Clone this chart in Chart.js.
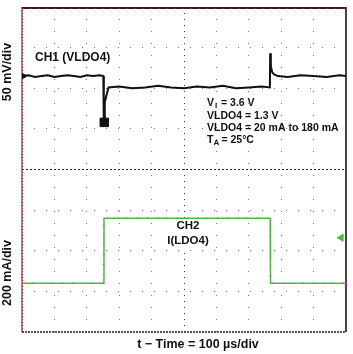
<!DOCTYPE html>
<html>
<head>
<meta charset="utf-8">
<script src="https://cdn.jsdelivr.net/npm/chart.js@4.4.0/dist/chart.umd.min.js"></script>
<style>
html, body { margin: 0; padding: 0; background: #fff; }
#wrap { width: 353px; height: 354px; }
</style>
</head>
<body>
<div id="wrap"><canvas id="scope" width="353" height="354"></canvas></div>
<script>
// time base: 100 us/div, 10 div across
var ch1Time = [0, 20, 40, 60, 80, 100, 120, 140, 160, 180, 200, 220, 240, 251, 252, 253, 255, 255.5, 267, 300, 340, 380, 420, 460, 500, 540, 580, 620, 660, 700, 740, 765, 766, 768, 772, 778, 790, 820, 860, 900, 940, 980, 1000];
// CH1 (VLDO4) deviation, mV (AC coupled)
var ch1mV = [0, 1, -1, 0, 1, -1, 0, 1, 0, -1, 1, 0, 1, 0, 0, -60, -60, -32, -14, -13, -15, -14, -12, -14, -15, -13, -14, -12, -15, -14, -13, -14, 28, 12, 5, 2, 0, -1, 1, 0, -1, 1, 0];

// CH2 I(LDO4), mA
var ch2Time = [0, 252, 253, 766, 767, 1000];
var ch2mA = [20, 20, 180, 180, 20, 20];

// channel markers
var ch1Marker = {t: 254, v: -57};
var ch2RefMarker = {t: 985, v: 132};
var ch1RefMarker = {t: 6, v: 0};

var infoLines = ["VLDO4 = 1.3 V", "VLDO4 = 20 mA to 180 mA"];

function pts(xs, ys) {
	var out = [];
	for (var i = 0; i < xs.length; i++) out.push({x: xs[i], y: ys[i]});
	return out;
}

var frameAndText = {
	id: 'frameAndText',
	beforeDatasetsDraw: function(chart) {
		var ctx = chart.ctx, a = chart.chartArea;
		ctx.save();
		// left border gray + red dots
		ctx.strokeStyle = '#8a8a8a'; ctx.lineWidth = 2;
		ctx.beginPath(); ctx.moveTo(a.left, a.top); ctx.lineTo(a.left, a.bottom); ctx.stroke();
		ctx.strokeStyle = '#e02020'; ctx.lineWidth = 1; ctx.setLineDash([1, 2]);
		ctx.beginPath(); ctx.moveTo(a.left + 0.5, a.top); ctx.lineTo(a.left + 0.5, a.bottom); ctx.stroke();
		ctx.setLineDash([]);
		// top border
		ctx.strokeStyle = '#222'; ctx.lineWidth = 2;
		ctx.beginPath(); ctx.moveTo(a.left, a.top + 1); ctx.lineTo(a.right, a.top + 1); ctx.stroke();
		ctx.strokeStyle = '#e02020'; ctx.lineWidth = 1; ctx.setLineDash([1, 7]);
		ctx.beginPath(); ctx.moveTo(a.left, a.top + 1.5); ctx.lineTo(a.right, a.top + 1.5); ctx.stroke();
		ctx.setLineDash([]);
		// right border
		ctx.strokeStyle = '#444'; ctx.lineWidth = 2;
		ctx.beginPath(); ctx.moveTo(a.right, a.top); ctx.lineTo(a.right, a.bottom); ctx.stroke();
		// bottom border dotted
		ctx.strokeStyle = '#222'; ctx.lineWidth = 1.5; ctx.setLineDash([2, 1]);
		ctx.beginPath(); ctx.moveTo(a.left, a.bottom); ctx.lineTo(a.right, a.bottom); ctx.stroke();
		ctx.setLineDash([]);
		ctx.restore();
	},
	afterDraw: function(chart) {
		var ctx = chart.ctx;
		ctx.save();
		ctx.fillStyle = '#111';
		ctx.textBaseline = 'middle';

		ctx.font = 'bold 12px "Liberation Sans", Arial, sans-serif';
		ctx.textAlign = 'left';
		ctx.fillText('CH1 (VLDO4)', 35, 58);

		// info block
		ctx.font = 'bold 10.5px "Liberation Sans", Arial, sans-serif';
		var x0 = 207;
		ctx.fillText('V', x0, 103);
		var w = ctx.measureText('V').width;
		ctx.font = 'bold 8px "Liberation Sans", Arial, sans-serif';
		ctx.fillText('I', x0 + w + 1, 106);
		ctx.font = 'bold 10.5px "Liberation Sans", Arial, sans-serif';
		ctx.fillText('= 3.6 V', x0 + w + 7, 103);
		ctx.fillText(infoLines[0], x0, 116);
		ctx.fillText(infoLines[1], x0, 128);
		ctx.fillText('T', x0, 140);
		w = ctx.measureText('T').width;
		ctx.font = 'bold 8px "Liberation Sans", Arial, sans-serif';
		ctx.fillText('A', x0 + w, 143);
		ctx.font = 'bold 10.5px "Liberation Sans", Arial, sans-serif';
		ctx.fillText('= 25\u00b0C', x0 + w + 8, 140);

		// CH2 label
		ctx.fillStyle = '#fff';
		ctx.fillRect(162, 219, 54, 31);
		ctx.fillStyle = '#111';
		ctx.font = 'bold 11.5px "Liberation Sans", Arial, sans-serif';
		ctx.textAlign = 'center';
		ctx.fillText('CH2', 188, 226);
		ctx.fillText('I(LDO4)', 188, 241);

		// axis labels
		ctx.font = 'bold 12.5px "Liberation Sans", Arial, sans-serif';
		ctx.fillText('t \u2212 Time = 100 \u00b5s/div', 198, 345);
		ctx.save();
		ctx.translate(8, 72);
		ctx.rotate(-Math.PI / 2);
		ctx.fillText('50 mV/div', 0, 0);
		ctx.restore();
		ctx.save();
		ctx.translate(8, 273);
		ctx.rotate(-Math.PI / 2);
		ctx.fillText('200 mA/div', 0, 0);
		ctx.restore();
		ctx.restore();
	}
};

function isCenter(ctx) {
	return ctx.tick && (ctx.tick.value === 500 || ctx.tick.value === 4);
}

var ctxScope = document.getElementById('scope').getContext('2d');
var myChart = new Chart(ctxScope, {
	type: 'line',
	data: {
		datasets: [
			{
				// CH2 green trace
				data: pts(ch2Time, ch2mA),
				yAxisID: 'y2',
				borderColor: '#52b646',
				borderWidth: 1.5,
				pointRadius: 0,
				tension: 0,
				fill: false
			},
			{
				// black persistence dots on CH2
				data: pts(ch2Time, ch2mA),
				yAxisID: 'y2',
				borderColor: 'rgba(0,0,0,0.8)',
				borderWidth: 1.5,
				borderDash: [1, 9],
				pointRadius: 0,
				tension: 0,
				fill: false
			},
			{
				// CH1 black trace
				data: pts(ch1Time, ch1mV),
				yAxisID: 'y1',
				borderColor: '#111',
				borderWidth: 2,
				pointRadius: 0,
				tension: 0,
				fill: false
			},
			{
				// red persistence dots on CH1
				data: pts(ch1Time, ch1mV),
				yAxisID: 'y1',
				borderColor: '#e01818',
				borderWidth: 1.5,
				borderDash: [1, 6],
				pointRadius: 0,
				tension: 0,
				fill: false
			},
			{
				data: [{x: ch1Marker.t, y: ch1Marker.v}],
				yAxisID: 'y1',
				showLine: false,
				pointStyle: 'rect',
				pointRadius: 6,
				backgroundColor: '#111',
				borderColor: '#111',
				borderWidth: 1
			},
			{
				data: [{x: ch1RefMarker.t, y: ch1RefMarker.v}],
				yAxisID: 'y1',
				showLine: false,
				pointStyle: 'triangle',
				rotation: 90,
				pointRadius: 3,
				backgroundColor: '#111',
				borderColor: '#111'
			},
			{
				data: [{x: ch2RefMarker.t, y: ch2RefMarker.v}],
				yAxisID: 'y2',
				showLine: false,
				pointStyle: 'triangle',
				rotation: -90,
				pointRadius: 4,
				backgroundColor: '#52b646',
				borderColor: '#52b646'
			}
		]
	},
	options: {
		responsive: false,
		animation: false,
		layout: { padding: { left: 22, right: 2, top: 1, bottom: 22 } },
		plugins: {
			legend: { display: false },
			tooltip: { enabled: false },
			title: { display: false }
		},
		scales: {
			x: {
				type: 'linear',
				min: 0, max: 1000,
				ticks: { display: false, stepSize: 100 },
				grid: {
					color: function(c) { return isCenter(c) ? '#333' : '#777'; },
					lineWidth: 1,
					drawTicks: false
				},
				border: { display: false, dash: function(c) { return isCenter(c) ? [1, 5] : [1, 11]; } }
			},
			y: {
				type: 'linear',
				min: 0, max: 8,
				ticks: { display: false, stepSize: 1 },
				grid: {
					color: function(c) { return isCenter(c) ? '#222' : '#777'; },
					lineWidth: 1,
					drawTicks: false
				},
				border: { display: false, dash: function(c) { return isCenter(c) ? [2, 2] : [1, 11]; } }
			},
			y1: { display: false, min: -315, max: 85 },
			y2: { display: false, min: -100, max: 700 }
		}
	},
	plugins: [frameAndText]
});
</script>
</body>
</html>
